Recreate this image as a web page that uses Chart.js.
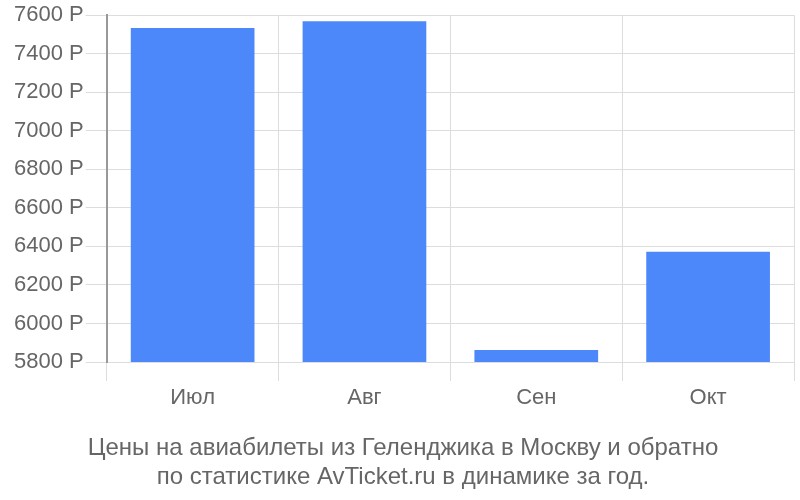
<!DOCTYPE html>
<html>
<head>
<meta charset="utf-8">
<script src="https://cdn.jsdelivr.net/npm/chart.js@4"></script>
<style>
  html, body { margin: 0; padding: 0; background: #fff; }
  #wrap { width: 800px; height: 500px; }
</style>
</head>
<body>
<div id="wrap"><canvas id="bars"></canvas></div>
<script>
const months = ['Июл', 'Авг', 'Сен', 'Окт']
const prices = [7533, 7569, 5862, 6372]
const yMin = 5800
const yMax = 7600
const yStep = 200
const titleLines = [
  'Цены на авиабилеты из Геленджика в Москву и обратно',
  'по статистике AvTicket.ru в динамике за год.',
]

const barConfig = {
  type: 'bar',
  data: {
    labels: months,
    datasets: [
      {
        label: 'Цена',
        backgroundColor: '#4d88fa',
        borderWidth: 0,
        data: prices,
        barPercentage: 0.9,
        categoryPercentage: 0.8,
      },
    ],
  },
  options: {
    responsive: true,
    maintainAspectRatio: false,
    animation: false,
    layout: { padding: { left: 12, right: 6, top: 4, bottom: 8 } },
    plugins: {
      legend: { display: false },
      tooltip: { enabled: false },
      title: {
        display: true,
        position: 'bottom',
        text: titleLines,
        color: '#666',
        font: { family: 'Liberation Sans', size: 24, weight: 'normal', lineHeight: 1.2 },
        padding: { top: 19, bottom: 0 },
      },
    },
    scales: {
      x: {
        grid: { color: '#ddd', tickLength: 19, offset: true },
        border: { display: false },
        ticks: { color: '#666', font: { family: 'Liberation Sans', size: 22 }, padding: 4 },
      },
      y: {
        min: yMin,
        max: yMax,
        grid: { color: '#ddd', tickLength: 21 },
        border: { color: '#999', width: 2 },
        ticks: {
          stepSize: yStep,
          color: '#666',
          padding: 2,
          font: { family: 'Liberation Sans', size: 22 },
          callback: (v) => v + ' Р',
        },
      },
    },
  },
}

const barsCtx = document.getElementById('bars')
window.myBar = new Chart(barsCtx, barConfig)
</script>
</body>
</html>
